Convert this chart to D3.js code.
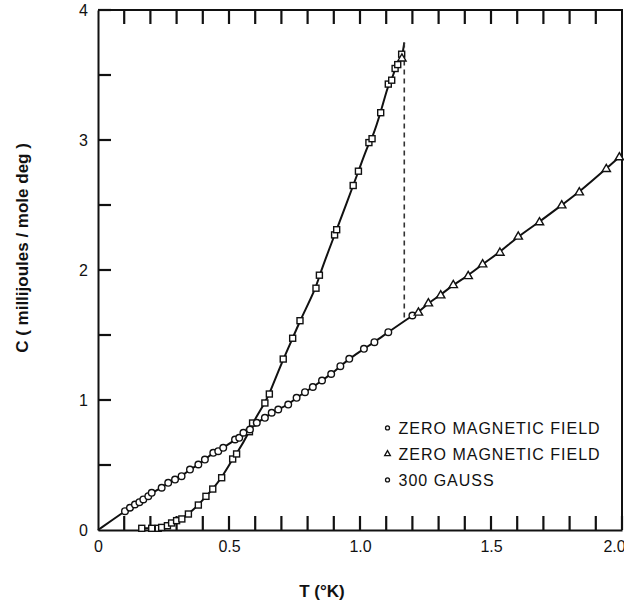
<!DOCTYPE html>
<html>
<head>
<meta charset="utf-8">
<script src="https://cdn.jsdelivr.net/npm/d3@7"></script>
<style>
  body { margin: 0; background: #fff; }
  text { font-family: "Liberation Sans", Arial, sans-serif; fill: #111; }
</style>
</head>
<body>
<div id="chart"></div>
<script>
// zero magnetic field, below Tc (squares)
const zeroT = [0.167, 0.205, 0.23, 0.243, 0.265, 0.281, 0.30, 0.32, 0.345, 0.383, 0.412, 0.438, 0.472, 0.514, 0.529,
  0.578, 0.59, 0.637, 0.654, 0.707, 0.743, 0.771, 0.832, 0.845, 0.903, 0.911, 0.974, 0.994, 1.034, 1.046,
  1.079, 1.108, 1.121, 1.134, 1.144, 1.159];
const zeroC = [0.013, 0.013, 0.013, 0.02, 0.033, 0.054, 0.072, 0.085, 0.123, 0.192, 0.259, 0.315, 0.402, 0.546, 0.585,
  0.756, 0.823, 0.977, 1.046, 1.315, 1.475, 1.61, 1.86, 1.96, 2.27, 2.31, 2.65, 2.76, 2.98, 3.01,
  3.21, 3.43, 3.46, 3.55, 3.58, 3.66];

// zero magnetic field (triangles)
const triT = [1.16, 1.223, 1.261, 1.308, 1.356, 1.413, 1.468, 1.534, 1.604, 1.685, 1.77, 1.837, 1.94, 1.99];
const triC = [3.63, 1.675, 1.746, 1.808, 1.887, 1.956, 2.046, 2.136, 2.26, 2.37, 2.5, 2.6, 2.78, 2.87];

// 300 gauss (circles)
const gaussT = [0.103, 0.122, 0.141, 0.158, 0.173, 0.192, 0.205, 0.243, 0.268, 0.294, 0.319, 0.351, 0.383, 0.408,
  0.44, 0.459, 0.478, 0.523, 0.539, 0.555, 0.58, 0.606, 0.637, 0.663, 0.688, 0.726, 0.758, 0.79, 0.82,
  0.855, 0.89, 0.925, 0.959, 1.015, 1.055, 1.108, 1.2];
const gaussC = [0.145, 0.171, 0.196, 0.214, 0.235, 0.26, 0.286, 0.325, 0.363, 0.388, 0.414, 0.465, 0.504, 0.542,
  0.594, 0.606, 0.632, 0.696, 0.709, 0.748, 0.773, 0.825, 0.863, 0.902, 0.927, 0.965, 1.017, 1.06, 1.10,
  1.15, 1.2, 1.26, 1.317, 1.394, 1.445, 1.522, 1.65];

// transition
const tc = 1.169;
const cTop = 3.75;
const cBottom = 1.62;

const xTickLabels = ["0", "0.5", "1.0", "1.5", "2.0"];
const yTickLabels = ["0", "1", "2", "3", "4"];
const legendLabels = ["ZERO MAGNETIC FIELD", "ZERO MAGNETIC FIELD", "300 GAUSS"];

const margin = { top: 10, right: 2, bottom: 70, left: 98 };
const width = 624 - margin.left - margin.right;
const height = 600 - margin.top - margin.bottom;

const svg = d3.select("#chart").append("svg")
    .attr("width", 624)
    .attr("height", 600)
    .append("g")
    .attr("transform", "translate(" + margin.left + "," + margin.top + ")");

const x = d3.scaleLinear().domain([0, 2]).range([0, width]);
const y = d3.scaleLinear().domain([0, 4]).range([height, 0]);

const xTicks = [0, 0.1, 0.2, 0.3, 0.4, 0.5, 0.6, 0.7, 0.8, 0.9, 1.0, 1.1, 1.2, 1.3, 1.4, 1.5, 1.6, 1.7, 1.8, 1.9, 2.0];
const yTicks = [0, 0.5, 1, 1.5, 2, 2.5, 3, 3.5, 4];

const xAxis = d3.axisBottom(x)
    .tickValues(xTicks.filter((d, i) => i % 5 === 0))
    .tickSize(0)
    .tickPadding(8)
    .tickFormat((d, i) => xTickLabels[i]);

const yAxis = d3.axisLeft(y)
    .tickValues(yTicks.filter((d, i) => i % 2 === 0))
    .tickSize(0)
    .tickPadding(10)
    .tickFormat((d, i) => yTickLabels[i]);

const gx = svg.append("g")
    .attr("transform", "translate(0," + height + ")")
    .call(xAxis);
gx.selectAll("text").style("font-size", "16px").attr("dy", "0.9em");
gx.selectAll(".tick").filter((d, i) => i === 4).select("text").attr("x", -8);

const gy = svg.append("g").call(yAxis);
gy.selectAll("text").style("font-size", "16px");
svg.selectAll(".domain").attr("stroke", "#111").attr("stroke-width", 2);

// top and right frame
svg.append("path")
    .attr("d", "M0,0H" + width + "V" + height)
    .attr("fill", "none")
    .attr("stroke", "#111")
    .attr("stroke-width", 2);

// inward ticks
const tickG = svg.append("g")
    .attr("stroke", "#111")
    .attr("stroke-width", 2.2);
xTicks.slice(1).forEach(d => {
    tickG.append("line")
        .attr("x1", x(d)).attr("x2", x(d))
        .attr("y1", height).attr("y2", height - 14);
});
xTicks.slice(1, -1).forEach(d => {
    tickG.append("line")
        .attr("x1", x(d)).attr("x2", x(d))
        .attr("y1", 0).attr("y2", 14);
});
yTicks.slice(1).forEach(d => {
    tickG.append("line")
        .attr("x1", 0).attr("x2", 13)
        .attr("y1", y(d)).attr("y2", y(d));
});

// curves
const line = d3.line()
    .x(d => x(d[0]))
    .y(d => y(d[1]))
    .curve(d3.curveBasis);

const superPts = zeroT.map((t, i) => [t, zeroC[i]])
    .concat(triT.map((t, i) => [t, triC[i]]).filter(d => d[0] < tc))
    .concat([[tc, cTop]])
    .sort((a, b) => a[0] - b[0]);

const normalPts = [[0, 0]]
    .concat(gaussT.map((t, i) => [t, gaussC[i]]))
    .concat(triT.map((t, i) => [t, triC[i]]).filter(d => d[0] > tc))
    .sort((a, b) => a[0] - b[0]);

svg.append("path")
    .datum(superPts)
    .attr("d", line)
    .attr("fill", "none")
    .attr("stroke", "#111")
    .attr("stroke-width", 2);

svg.append("path")
    .datum(normalPts)
    .attr("d", line)
    .attr("fill", "none")
    .attr("stroke", "#111")
    .attr("stroke-width", 2);

svg.append("line")
    .attr("x1", x(tc)).attr("x2", x(tc))
    .attr("y1", y(cTop)).attr("y2", y(cBottom))
    .attr("stroke", "#333")
    .attr("stroke-width", 1.6)
    .attr("stroke-dasharray", "5,4");

// markers
const marker = svg.append("g")
    .attr("fill", "#fff")
    .attr("stroke", "#111")
    .attr("stroke-width", 1.4);

marker.selectAll(".sq")
    .data(zeroT.map((t, i) => [t, zeroC[i]]))
    .enter().append("rect")
    .attr("x", d => x(d[0]) - 3)
    .attr("y", d => y(d[1]) - 3)
    .attr("width", 6)
    .attr("height", 6);

marker.selectAll(".ci")
    .data(gaussT.map((t, i) => [t, gaussC[i]]))
    .enter().append("circle")
    .attr("cx", d => x(d[0]))
    .attr("cy", d => y(d[1]))
    .attr("r", 3.3);

const tri = d3.symbol().type(d3.symbolTriangle).size(30);
marker.selectAll(".tr")
    .data(triT.map((t, i) => [t, triC[i]]))
    .enter().append("path")
    .attr("d", tri)
    .attr("transform", d => "translate(" + x(d[0]) + "," + (y(d[1]) + 0.5) + ")");

// legend
const legend = svg.append("g")
    .attr("transform", "translate(" + (x(1.105)) + "," + (y(0.785)) + ")");

legendLabels.forEach((lab, i) => {
    const g = legend.append("g").attr("transform", "translate(0," + (i * 26) + ")");
    if (i === 1) {
        g.append("path")
            .attr("d", d3.symbol().type(d3.symbolTriangle).size(14))
            .attr("fill", "#fff").attr("stroke", "#111").attr("stroke-width", 1.3);
    } else {
        g.append("circle").attr("r", 2)
            .attr("fill", "#fff").attr("stroke", "#111").attr("stroke-width", 1.3);
    }
    g.append("text")
        .attr("x", 11)
        .attr("dy", "0.36em")
        .style("font-size", "16px")
        .style("letter-spacing", "1px")
        .text(lab);
});

// axis titles
svg.append("text")
    .attr("transform", "translate(" + (-70) + "," + (height / 2 - 22) + ") rotate(-90)")
    .attr("text-anchor", "middle")
    .style("font-size", "17px")
    .style("font-weight", "bold")
    .text("C ( millijoules / mole deg )");

svg.append("text")
    .attr("x", x(0.855))
    .attr("y", height + 67)
    .attr("text-anchor", "middle")
    .style("font-size", "17px")
    .style("font-weight", "bold")
    .text("T (°K)");
</script>
</body>
</html>
